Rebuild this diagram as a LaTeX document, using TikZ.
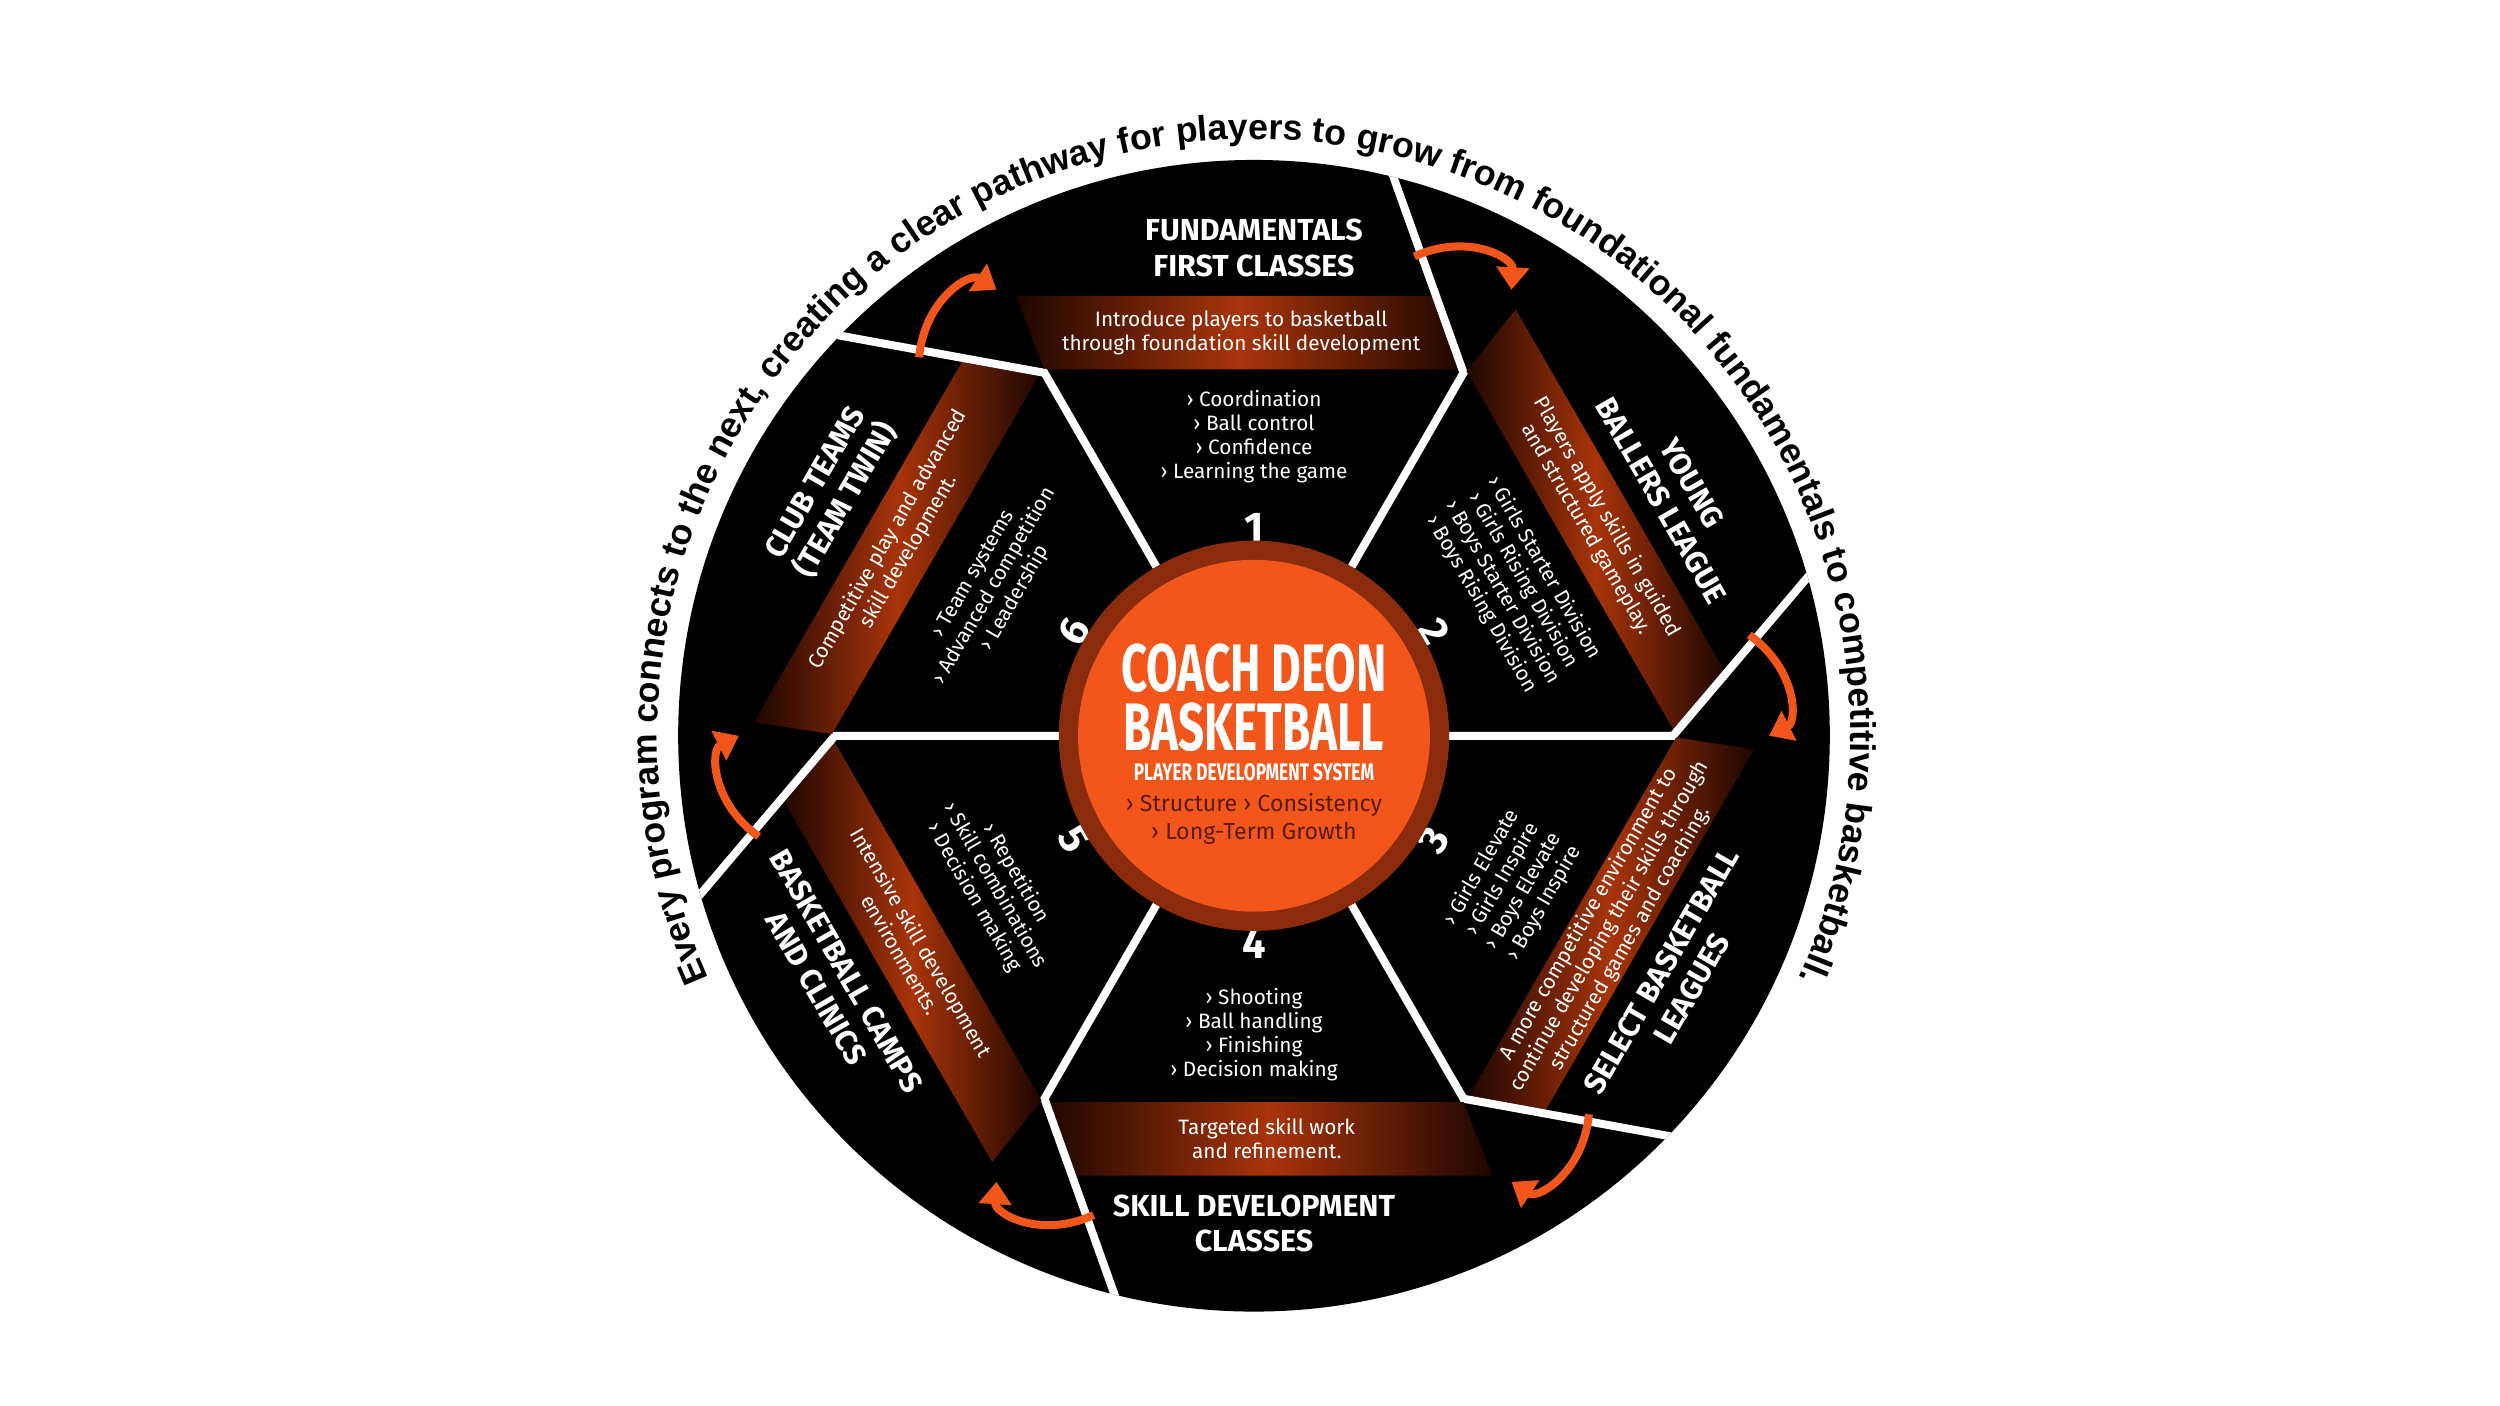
\documentclass[tikz,border=0pt]{standalone}
\usepackage{fontspec}
\setmainfont{Liberation Sans}
\newfontfamily\titlefont{Fira Sans}
\usetikzlibrary{arrows.meta,decorations.text,shapes.geometric}
\definecolor{orng}{HTML}{F2561A}
\definecolor{darkring}{HTML}{8A2C0C}
\definecolor{bandmid}{HTML}{A8340A}
\definecolor{bandend}{HTML}{1E0600}
\definecolor{subtxt}{HTML}{5A1A08}
\tikzset{
  divider/.style={white,line width=5pt},
  titletxt/.style={text=white,align=center,font=\titlefont\bfseries\fontsize{19}{22}\selectfont},
  bandtxt/.style={text=white,align=center,font=\titlefont\fontsize{13}{15}\selectfont},
  bullettxt/.style={text=white,align=center,font=\titlefont\fontsize{13}{15}\selectfont},
  numtxt/.style={text=white,font=\titlefont\bfseries\fontsize{26}{26}\selectfont},
  arrowc/.style={orng,line width=5pt,-{Triangle[length=14pt,width=20pt]}}
}
\newcommand\sectorX[7]{%
 \begin{scope}[rotate=#2-90]
  \shade[left color=bandend,right color=bandend,middle color=bandmid]
     (-131,229)--(131,229)--(113,275)--(-149,275)--cycle;
  \draw[divider] (60:122)--(60:262)--(76.5:365);
  \node[titletxt,rotate=#2-90+#3] (title#1) at (0,305) {#4};
  \node[bandtxt,rotate=#2-90+#3] (band#1) at (-8,252) {#5};
  \node[bullettxt,rotate=#2-90+#3] (list#1) at (0,187) {#6};
  \node[numtxt,rotate=#2-90+#3] (num#1) at (0,130) {#1};
  \draw[arrowc] (71.5:316) .. controls (67:342) and (61.5:340) .. (60:322);
 \end{scope}}
\begin{document}
\begin{tikzpicture}[x=1pt,y=1pt]
\useasboundingbox[fill=white] (-784,-419) rectangle (779,460);
\fill[black] (0,0) circle (360);
\begin{scope}
\clip (0,0) circle (360);
\sectorX{1}{90}{0}{FUNDAMENTALS\\FIRST CLASSES}{Introduce players to basketball\\through foundation skill development}{› Coordination\\› Ball control\\› Confidence\\› Learning the game}{}
\sectorX{2}{30}{0}{YOUNG\\BALLERS LEAGUE}{Players apply skills in guided\\and structured gameplay.}{› Girls Starter Division\\› Girls Rising Division\\› Boys Starter Division\\› Boys Rising Division}{}
\sectorX{3}{-30}{180}{SELECT BASKETBALL\\LEAGUES}{A more competitive environment to\\continue developing their skills through\\structured games and coaching.}{› Girls Elevate\\› Girls Inspire\\› Boys Elevate\\› Boys Inspire}{}
\sectorX{4}{270}{180}{SKILL DEVELOPMENT\\CLASSES}{Targeted skill work\\and refinement.}{› Shooting\\› Ball handling\\› Finishing\\› Decision making}{}
\sectorX{5}{210}{180}{BASKETBALL CAMPS\\AND CLINICS}{Intensive skill development\\environments.}{› Repetition\\› Skill combinations\\› Decision making}{}
\sectorX{6}{150}{0}{CLUB TEAMS\\(TEAM TWIN)}{Competitive play and advanced\\skill development.}{› Team systems\\› Advanced competition\\› Leadership}{}
\end{scope}
\fill[darkring] (0,0) circle (122);
\node[circle,fill=orng,minimum size=220pt,inner sep=0pt] (hub) at (0,0) {};
\node[text=white,align=center,font=\titlefont\bfseries\fontsize{42}{37}\selectfont] (brand) at (0,24) {\scalebox{0.68}[1]{COACH DEON}\\\scalebox{0.68}[1]{BASKETBALL}};
\node[text=white,font=\titlefont\bfseries\fontsize{15}{15}\selectfont] (system) at (0,-23) {\scalebox{0.72}[1]{PLAYER DEVELOPMENT SYSTEM}};
\node[text=subtxt,align=center,font=\titlefont\fontsize{14.5}{17}\selectfont] (motto) at (0,-52) {› Structure › Consistency\\› Long-Term Growth};
\path[decorate,decoration={text along path,text align=center,
  text={|\fontsize{22.3}{22.3}\selectfont\bfseries|Every program connects to the next, creating a clear pathway for players to grow from foundational fundamentals to competitive basketball.}}]
  (216:373) arc[start angle=216,end angle=-36,radius=373];
\end{tikzpicture}
\end{document}
